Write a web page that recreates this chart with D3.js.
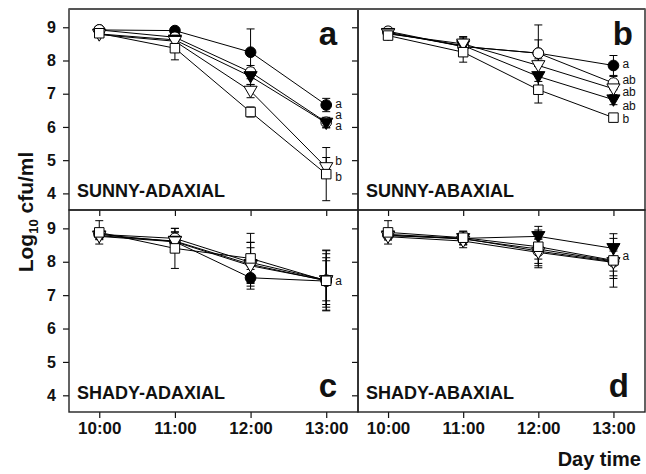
<!DOCTYPE html>
<html><head><meta charset="utf-8">
<script src="https://cdn.jsdelivr.net/npm/d3@7"></script>
<style>body{margin:0;background:#fff}svg{display:block}text{font-family:"Liberation Sans",Arial,sans-serif;font-weight:bold;fill:#111}</style>
</head><body><svg id="c" width="646" height="474"></svg>
<script>
const times = ["10:00","11:00","12:00","13:00"];
const yTicks = [4,5,6,7,8,9];
const seriesNames = ["filledCircle","openCircle","filledTriangle","openTriangle","openSquare"];
const panelTitles = ["SUNNY-ADAXIAL","SUNNY-ABAXIAL","SHADY-ADAXIAL","SHADY-ABAXIAL"];
const panelLetters = ["a","b","c","d"];
// values [panel][series][time]
const valuesA = [[8.92,8.90,8.25,6.66],[8.92,8.70,7.65,6.14],[8.80,8.62,7.52,6.12],[8.78,8.58,7.08,4.78],[8.82,8.37,6.45,4.58]];
const valuesB = [[8.85,8.42,8.22,7.85],[8.88,8.42,8.22,7.32],[8.82,8.45,7.52,6.82],[8.80,8.50,7.85,7.15],[8.75,8.25,7.12,6.28]];
const valuesC = [[8.82,8.60,7.52,7.42],[8.82,8.70,7.98,7.45],[8.78,8.62,7.92,7.43],[8.76,8.60,7.88,7.44],[8.88,8.40,8.10,7.43]];
const valuesD = [[8.80,8.68,8.38,8.02],[8.82,8.70,8.32,8.00],[8.78,8.70,8.76,8.40],[8.75,8.62,8.28,7.98],[8.88,8.72,8.45,8.04]];
const errA = [[0.05,0.05,0.70,0.20],[0.05,0.10,0.20,0.15],[0.05,0.10,0.25,0.15],[0.05,0.10,0.20,0.30],[0.05,0.35,0.15,0.80]];
const errB = [[0.05,0.20,0.85,0.30],[0.05,0.30,0.40,0.20],[0.05,0.20,0.30,0.15],[0.05,0.20,0.20,0.20],[0.05,0.30,0.40,0.10]];
const errC = [[0.10,0.30,0.25,0.70],[0.10,0.30,0.60,0.90],[0.10,0.25,0.50,0.60],[0.10,0.20,0.70,0.80],[0.35,0.60,0.75,0.90]];
const errD = [[0.10,0.15,0.30,0.30],[0.10,0.20,0.50,0.50],[0.10,0.10,0.30,0.30],[0.10,0.20,0.40,0.40],[0.35,0.20,0.50,0.80]];
// significance letters at 13:00: [label, value position]
const sigA = [["a",6.68],["a",6.36],["a",6.03],["b",4.97],["b",4.50]];
const sigB = [["a",7.88],["ab",7.42],["ab",7.05],["ab",6.64],["b",6.24]];
const sigC = [["a",7.43]];
const sigD = [["a",8.18]];

const values=[valuesA,valuesB,valuesC,valuesD], errs=[errA,errB,errC,errD], sigs=[sigA,sigB,sigC,sigD];
const svg=d3.select("#c");
const cols=[[69,358],[358,645]], rows=[[9,210],[210,412]];
const letterRight=[337,633,337,629];

const sym = {
  filledCircle: {type:d3.symbolCircle,size:90,fill:"#000",rot:0},
  openCircle: {type:d3.symbolCircle,size:90,fill:"#fff",rot:0},
  filledTriangle:{type:d3.symbolTriangle,size:75,fill:"#000",rot:180},
  openTriangle:{type:d3.symbolTriangle,size:75,fill:"#fff",rot:180},
  openSquare:{type:d3.symbolSquare,size:90,fill:"#fff",rot:0}
};

for(let p=0;p<4;p++){
  const c=cols[p%2], r=rows[Math.floor(p/2)];
  const x=d3.scaleLinear().domain([-0.4,3.42]).range(c);
  const y=d3.scaleLinear().domain([3.5,9.55]).range([r[1],r[0]]);
  const g=svg.append("g");
  const ya=d3.axisLeft(y).tickValues(yTicks).tickSize(6).tickPadding(7).tickFormat(p%2===0?d3.format("d"):()=>"");
  const yg=g.append("g").attr("transform",`translate(${c[0]},0)`).call(ya);
  yg.select(".domain").remove();
  yg.selectAll("line").attr("stroke","#111").attr("stroke-width",1.2);
  yg.selectAll("text").style("font-size","16px").attr("font-family",null);
  const xa=d3.axisBottom(x).tickValues([0,1,2,3]).tickSize(6).tickPadding(4).tickFormat(Math.floor(p/2)===1?(d=>times[d]):()=>"");
  const xg=g.append("g").attr("transform",`translate(0,${r[1]})`).call(xa);
  xg.select(".domain").remove();
  xg.selectAll("line").attr("stroke","#111").attr("stroke-width",1.2);
  xg.selectAll("text").style("font-size","17px").attr("font-family",null);

  const v=values[p], e=errs[p];
  const line=d3.line().x((d,i)=>x(i)).y(d=>y(d));
  v.forEach(s=>g.append("path").attr("d",line(s)).attr("fill","none").attr("stroke","#000").attr("stroke-width",1));
  v.forEach((s,si)=>s.forEach((val,ti)=>{
    const hi=val+e[si][ti], lo=val-e[si][ti], xx=x(ti);
    g.append("line").attr("x1",xx).attr("x2",xx).attr("y1",y(hi)).attr("y2",y(lo)).attr("stroke","#000").attr("stroke-width",1);
    [hi,lo].forEach(b=>g.append("line").attr("x1",xx-4).attr("x2",xx+4).attr("y1",y(b)).attr("y2",y(b)).attr("stroke","#000").attr("stroke-width",1));
  }));
  v.forEach((s,si)=>{
    const m=sym[seriesNames[si]];
    s.forEach((val,ti)=>{
      g.append("path").attr("d",d3.symbol().type(m.type).size(m.size)())
       .attr("transform",`translate(${x(ti)},${y(val)+(m.rot?-1:0)}) rotate(${m.rot})`)
       .attr("fill",m.fill).attr("stroke","#000").attr("stroke-width",1);
    });
  });
  sigs[p].forEach(([t,val])=>g.append("text").attr("x",x(3)+9).attr("y",y(val)+4).style("font-size","12px").style("font-weight","normal").text(t));
  g.append("rect").attr("x",c[0]).attr("y",r[0]).attr("width",c[1]-c[0]).attr("height",r[1]-r[0]).attr("fill","none").attr("stroke","#222").attr("stroke-width",1.4);
  g.append("text").attr("x",c[0]+8).attr("y",r[1]-13).style("font-size","18px").text(panelTitles[p]);
  const top=Math.floor(p/2)===0;
  g.append("text").attr("x",letterRight[p]).attr("y",top?45:397).attr("text-anchor","end").style("font-size","33px").text(panelLetters[p]);
}
svg.append("line").attr("x1",69).attr("x2",645).attr("y1",9).attr("y2",9).attr("stroke","#555").attr("stroke-width",2);

const yl=svg.append("text").attr("transform","translate(33,212) rotate(-90)").attr("text-anchor","middle").style("font-size","21px");
yl.append("tspan").text("Log");
yl.append("tspan").text("10").style("font-size","13px").attr("dy",5);
yl.append("tspan").text(" cfu/ml").attr("dy",-5);
svg.append("text").attr("x",641).attr("y",466).attr("text-anchor","end").style("font-size","20px").text("Day time");
</script></body></html>
